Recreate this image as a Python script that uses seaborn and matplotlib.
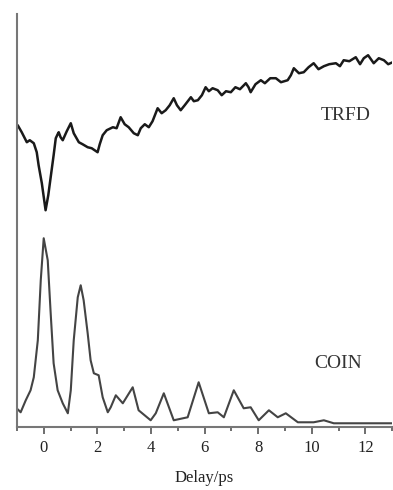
import matplotlib
matplotlib.use("Agg")
import matplotlib.pyplot as plt
import seaborn as sns
from matplotlib.ticker import MultipleLocator

# Estilo base
sns.set_style("ticks")
plt.rcParams['font.family'] = ['Liberation Serif', 'DejaVu Serif']

# Datos (retardo en ps, intensidad en unidades arbitrarias)
trfd_delay = [-0.97, -0.82, -0.63, -0.52, -0.37, -0.26, -0.19, -0.07, 0.07, 0.17,
              0.26, 0.37, 0.45, 0.52, 0.56, 0.63, 0.71, 0.86, 1.01, 1.12,
              1.31, 1.45, 1.64, 1.79, 2.01, 2.09, 2.20, 2.35, 2.58, 2.72,
              2.87, 3.02, 3.17, 3.36, 3.51, 3.62, 3.77, 3.92, 4.06, 4.25,
              4.40, 4.55, 4.70, 4.85, 4.97, 5.11, 5.26, 5.49, 5.60, 5.75,
              5.90, 6.04, 6.16, 6.30, 6.49, 6.64, 6.80, 6.98, 7.15, 7.32,
              7.54, 7.64, 7.72, 7.90, 8.10, 8.25, 8.45, 8.66, 8.85, 9.10,
              9.22, 9.33, 9.52, 9.70, 9.88, 10.07, 10.25, 10.45, 10.65, 10.90,
              11.05, 11.19, 11.40, 11.64, 11.80, 11.94, 12.10, 12.31, 12.50, 12.69,
              12.85, 13.02]
trfd_signal = [302, 295, 285, 287, 284, 275, 262, 244, 217, 232,
               250, 272, 289, 293, 295, 290, 287, 296, 304, 294,
               285, 283, 280, 279, 275, 283, 292, 297, 300, 299,
               310, 303, 300, 294, 292, 299, 303, 300, 306, 319,
               314, 317, 322, 329, 322, 317, 322, 330, 326, 327,
               332, 340, 336, 339, 337, 332, 336, 335, 340, 338,
               344, 340, 335, 343, 347, 344, 349, 349, 345, 347,
               352, 359, 354, 355, 360, 364, 358, 361, 363, 364,
               361, 367, 366, 370, 363, 369, 372, 364, 369, 367,
               363, 365]

coin_delay = [-0.97, -0.86, -0.67, -0.49, -0.37, -0.22, -0.11, 0.00, 0.15, 0.26,
              0.37, 0.52, 0.71, 0.90, 1.01, 1.12, 1.27, 1.38, 1.49, 1.64,
              1.75, 1.87, 2.05, 2.20, 2.39, 2.50, 2.69, 2.95, 3.32, 3.54,
              3.99, 4.18, 4.48, 4.85, 5.37, 5.78, 6.16, 6.49, 6.72, 7.09,
              7.46, 7.72, 8.02, 8.40, 8.73, 9.03, 9.48, 10.07, 10.45, 10.82,
              13.02]
coin_signal = [18, 15, 27, 37, 50, 87, 147, 189, 167, 114,
               64, 37, 24, 14, 37, 87, 130, 142, 127, 94,
               67, 54, 52, 30, 15, 20, 32, 24, 40, 17,
               7, 14, 34, 7, 10, 45, 14, 15, 10, 37,
               19, 20, 7, 17, 10, 14, 5, 5, 7, 4,
               4]

fig = plt.figure(figsize=(3.93, 4.90), dpi=100)
ax = fig.add_axes([0.043, 0.128, 0.955, 0.843])

sns.lineplot(x=trfd_delay, y=trfd_signal, color='#1a1a1a', linewidth=1.8, ax=ax)
sns.lineplot(x=coin_delay, y=coin_signal, color='#444444', linewidth=1.5, ax=ax)

# Etiquetas de las curvas
ax.text(11.27, 312, 'TRFD', fontsize=14, color='#333333', ha='center', va='center')
ax.text(10.97, 64, 'COIN', fontsize=14, color='#333333', ha='center', va='center')

# Ejes
ax.set_xlim(-1, 13)
ax.set_ylim(0, 413)
ax.xaxis.set_major_locator(MultipleLocator(2))
ax.xaxis.set_minor_locator(MultipleLocator(1))
ax.tick_params(axis='x', which='major', length=5, width=1.2, color='#555555',
               labelsize=12, pad=4, labelcolor='#222222')
ax.tick_params(axis='x', which='minor', length=3, width=1.2, color='#555555')
ax.set_yticks([])
ax.set_xlabel('Delay/ps', fontsize=12, color='#222222', labelpad=10)
ax.set_ylabel('')

sns.despine(ax=ax)
for side in ['left', 'bottom']:
    ax.spines[side].set_color('#777777')
    ax.spines[side].set_linewidth(1.5)

plt.savefig('out.png', dpi=100)
